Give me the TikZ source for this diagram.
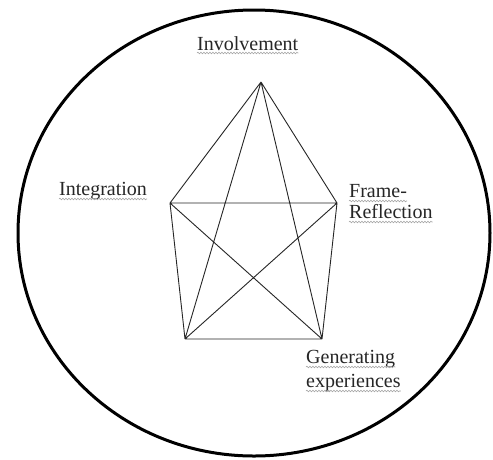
\documentclass[tikz,border=0pt]{standalone}
\usepackage{fontspec}
\setmainfont{Liberation Serif}
\usetikzlibrary{decorations.pathmorphing}
\begin{document}
\begin{tikzpicture}[x=1pt,y=-1pt,
  edge/.style={line width=0.9pt, black!85},
  lbl/.style={inner sep=0pt, anchor=base west, font=\fontsize{20}{22}\selectfont, text=black!85},
  squig/.style={gray!70, line width=0.6pt, decorate, decoration={snake, segment length=3pt, amplitude=0.8pt}}]
\useasboundingbox (0,0) rectangle (493,459);
\fill[white] (0,0) rectangle (493,459);
\draw[line width=3pt] (254,233) ellipse [x radius=236, y radius=223];
\coordinate (T) at (261,82);
\coordinate (L) at (170,203);
\coordinate (R) at (337,203);
\coordinate (BL) at (185,339);
\coordinate (BR) at (322,339);
\draw[edge] (T) -- (L) (T) -- (R) (T) -- (BL) (T) -- (BR)
  (L) -- (R) (L) -- (BL) (L) -- (BR) (R) -- (BR) (R) -- (BL) (BL) -- (BR);
\node[lbl] (inv) at (197,50) {Involvement};
\node[lbl] (int) at (59,195) {Integration};
\node[lbl] (fr1) at (349,197) {Frame-};
\node[lbl] (fr2) at (349,218) {Reflection};
\node[lbl] (ge1) at (306,363) {Generating};
\node[lbl] (ge2) at (306,387) {experiences};
\draw[squig] ([yshift=-3pt]inv.base west) -- ([yshift=-3pt]inv.base east);
\draw[squig] ([yshift=-4pt]int.base west) -- ([yshift=-4pt]int.base east);
\draw[squig] ([yshift=-4pt]fr1.base west) -- ([yshift=-4pt]fr1.base east);
\draw[squig] ([yshift=-4pt]fr2.base west) -- ([yshift=-4pt]fr2.base east);
\draw[squig] ([yshift=-4pt]ge1.base west) -- ([yshift=-4pt]ge1.base east);
\draw[squig] ([yshift=-4pt]ge2.base west) -- ([yshift=-4pt]ge2.base east);
\end{tikzpicture}
\end{document}
